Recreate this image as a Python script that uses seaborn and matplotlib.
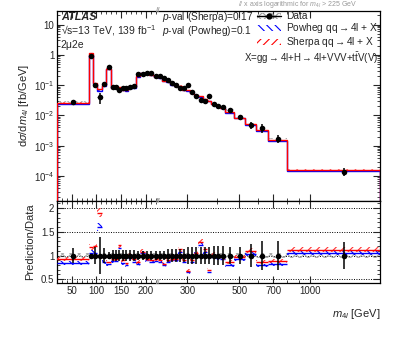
import numpy as np
import matplotlib
matplotlib.use("Agg")
import matplotlib.pyplot as plt
import seaborn as sns
from matplotlib.patches import Patch
from matplotlib.lines import Line2D
from matplotlib.ticker import FixedLocator, FuncFormatter, NullFormatter
import matplotlib.transforms as mtransforms

# ---------------- data ----------------
bin_edges = [20, 85, 94, 102, 112, 120, 130, 136, 143, 150, 157, 164, 172, 180,
             189, 198, 207, 216, 225, 235, 244, 253, 263, 275, 285, 295, 308,
             321, 335, 349, 363, 380, 398, 414, 436, 476, 530, 588, 662, 800, 2000]

data_xsec = [0.028, 0.95, 0.101, 0.040, 0.107, 0.41, 0.089, 0.089, 0.069, 0.079,
             0.082, 0.085, 0.094, 0.235, 0.235, 0.259, 0.247, 0.206, 0.202, 0.169,
             0.149, 0.116, 0.101, 0.083, 0.079, 0.101, 0.061, 0.045, 0.033, 0.030,
             0.044, 0.024, 0.0205, 0.0183, 0.015, 0.0087, 0.0048, 0.0039, 0.0017, 0.00014]

data_rel_err = [0.15, 0.03, 0.18, 0.40, 0.15, 0.08, 0.12, 0.12, 0.12, 0.12,
                0.12, 0.12, 0.12, 0.10, 0.10, 0.10, 0.10, 0.10, 0.10, 0.10,
                0.13, 0.13, 0.13, 0.13, 0.13, 0.17, 0.17, 0.17, 0.17, 0.17,
                0.17, 0.20, 0.20, 0.20, 0.17, 0.17, 0.25, 0.30, 0.30, 0.28]

ratio_sherpa = [0.93, 1.18, 1.20, 1.90, 0.96, 0.86, 0.93, 0.93, 1.23, 0.90,
                0.85, 1.00, 0.92, 0.86, 1.08, 0.93, 0.90, 0.92, 0.90, 0.82,
                0.90, 0.93, 0.93, 1.13, 0.90, 0.68, 0.90, 1.06, 1.28, 1.13,
                0.70, 1.02, 0.99, 0.96, 0.86, 0.97, 1.10, 0.86, 0.88, 1.12]

ratio_powheg = [0.84, 1.06, 1.05, 1.60, 0.87, 0.82, 0.88, 0.88, 1.16, 0.85,
                0.80, 0.95, 0.87, 0.82, 1.05, 0.90, 0.87, 0.88, 0.87, 0.80,
                0.87, 0.90, 0.90, 1.08, 0.87, 0.65, 0.87, 1.02, 1.22, 1.08,
                0.66, 0.97, 0.95, 0.93, 0.79, 0.92, 1.04, 0.79, 0.82, 1.06]

pred_rel_unc = 0.05
data_syst_rel = 0.05

major_xticks = [50, 100, 150, 200, 300, 500, 700, 1000]
minor_xticks = [20, 30, 40, 60, 70, 80, 90, 110, 120, 130, 140, 160, 170, 180,
                190, 210, 220, 400, 600, 800, 900, 2000]

# ---------------- style ----------------
sns.set_theme(style="ticks")
plt.rcParams.update({
    "font.size": 7.5,
    "mathtext.fontset": "custom",
    "mathtext.rm": "Liberation Sans",
    "mathtext.it": "Liberation Sans:italic",
    "mathtext.bf": "Liberation Sans:bold",
    "hatch.linewidth": 0.8,
    "axes.linewidth": 0.9,
    "xtick.direction": "in",
    "ytick.direction": "in",
    "xtick.top": True,
    "ytick.right": True,
})
plt.rcParams["font.family"] = ["Liberation Sans", "DejaVu Sans"]

RED = "#ff0000"
BLUE = "#0000ff"

edges = np.array(bin_edges, float)
lo, hi = edges[:-1], edges[1:]
centers = 0.5 * (lo + hi)
data = np.array(data_xsec)
derr = data * np.array(data_rel_err)
rs = np.array(ratio_sherpa)
rp = np.array(ratio_powheg)
sherpa = data * rs
powheg = data * rp

# piecewise linear/log axis (log above 225 GeV)
K = 474.5


def fwd(x):
    x = np.asarray(x, float)
    with np.errstate(divide="ignore", invalid="ignore"):
        return np.where(x <= 225, x, 225 + K * np.log10(np.clip(x, 1e-9, None) / 225))


def inv(y):
    y = np.asarray(y, float)
    with np.errstate(over="ignore"):
        return np.where(y <= 225, y, 225 * 10 ** ((y - 225) / K))


W, H = 399, 337
fig = plt.figure(figsize=(W / 100, H / 100), dpi=100)
ax = fig.add_axes([57 / W, 1 - 201 / H, 323 / W, 190 / H])
ax2 = fig.add_axes([57 / W, 1 - 283 / H, 323 / W, 82 / H])
for a in (ax, ax2):
    a.set_xscale("function", functions=(fwd, inv))
    a.set_xlim(20, 2000)

# ---------------- main panel ----------------
ax.set_yscale("log")
ax.set_ylim(1.5e-5, 28)

ax.stairs(data * (1 + data_syst_rel), edges, baseline=data * (1 - data_syst_rel),
          fill=True, facecolor="none", edgecolor="#aaaaaa", hatch="xxxx", linewidth=0, zorder=1)
ax.stairs(powheg * (1 + pred_rel_unc), edges, baseline=powheg * (1 - pred_rel_unc),
          fill=True, facecolor="none", edgecolor=BLUE, hatch="\\\\\\\\", linewidth=0, zorder=2)
ax.stairs(powheg, edges, color=BLUE, linewidth=1.0, zorder=3)
ax.stairs(sherpa * (1 + pred_rel_unc), edges, baseline=sherpa * (1 - pred_rel_unc),
          fill=True, facecolor="none", edgecolor="#ff6666", hatch="////", linewidth=0, zorder=2)
ax.stairs(sherpa, edges, color=RED, linewidth=1.0, zorder=4)
ax.errorbar(centers, data, yerr=derr, fmt="none", ecolor="black", elinewidth=1.1, zorder=5)
sns.scatterplot(x=centers, y=data, ax=ax, color="black", s=16, edgecolor="black",
                linewidth=0, zorder=6, legend=False)


def yfmt(v, pos):
    e = int(round(np.log10(v)))
    if e == 0:
        return "1"
    if e == 1:
        return "10"
    return r"$10^{%d}$" % e


ax.yaxis.set_major_locator(FixedLocator([1e-4, 1e-3, 1e-2, 1e-1, 1, 10]))
ax.yaxis.set_major_formatter(FuncFormatter(yfmt))
ax.yaxis.set_minor_locator(FixedLocator(
    [m * 10.0 ** e for e in range(-5, 2) for m in range(2, 10)]))
ax.yaxis.set_minor_formatter(NullFormatter())
ax.set_ylabel(r"d$\sigma$/d$m_{4l}$ [fb/GeV]", fontsize=8, labelpad=2)

for a in (ax, ax2):
    a.xaxis.set_major_locator(FixedLocator(major_xticks))
    a.xaxis.set_minor_locator(FixedLocator(minor_xticks))
    a.xaxis.set_minor_formatter(NullFormatter())
    a.tick_params(which="major", length=5, width=0.8, labelsize=7, pad=2)
    a.tick_params(which="minor", length=2.5, width=0.6)
    for s in a.spines.values():
        s.set_color("black")
ax.xaxis.set_major_formatter(NullFormatter())
ax2.xaxis.set_major_formatter(FuncFormatter(lambda v, p: "%d" % v))

# texts
ax.text(0.012, 0.968, "ATLAS", transform=ax.transAxes, fontsize=7.8,
        fontweight="bold", fontstyle="italic", va="center", ha="left")
ax.text(0.012, 0.895, "\u221As=13 TeV, 139 fb$^{-1}$", transform=ax.transAxes,
        fontsize=7.5, va="center", ha="left")
ax.text(0.012, 0.82, "2\u03bc2e", transform=ax.transAxes, fontsize=7.5,
        va="center", ha="left")
ax.text(0.325, 0.968, "$p$-val (Sherpa)=0.17", transform=ax.transAxes,
        fontsize=7.3, va="center", ha="left")
ax.text(0.325, 0.895, "$p$-val (Powheg)=0.1", transform=ax.transAxes,
        fontsize=7.3, va="center", ha="left")
ax.text(0.995, 0.755, r"X=gg$\rightarrow$4l+H$\rightarrow$4l+VVV+t$\bar{\rm t}$V(V)",
        transform=ax.transAxes, fontsize=7.0, va="center", ha="right")

h_data = (Patch(facecolor="none", edgecolor="#999999", hatch="xxxx", linewidth=0),
          Line2D([], [], color="black", marker="o", markersize=3.5, linewidth=1.0))
h_pow = Patch(facecolor="none", edgecolor=BLUE, hatch="\\\\\\\\", linewidth=0)
h_she = Patch(facecolor="none", edgecolor=RED, hatch="////", linewidth=0)
ax.legend([h_data, h_pow, h_she],
          ["Data", r"Powheg qq$\rightarrow$4l + X", r"Sherpa qq$\rightarrow$4l + X"],
          loc="upper left", bbox_to_anchor=(0.605, 1.025), frameon=False, fontsize=7.3,
          handlelength=2.3, handleheight=0.6, handletextpad=0.5, labelspacing=0.0,
          borderaxespad=0.3, borderpad=0.2)

# ---------------- ratio panel ----------------
ax2.set_ylim(0.42, 2.15)
for yv in (0.5, 1.0, 1.5, 2.0):
    ax2.axhline(yv, color="black", linestyle=(0, (1, 1.5)), linewidth=0.7, zorder=0)
ax2.stairs(np.full(len(data), 1 + data_syst_rel), edges,
           baseline=np.full(len(data), 1 - data_syst_rel), fill=True,
           facecolor="none", edgecolor="#aaaaaa", hatch="xxxx", linewidth=0, zorder=1)
ax2.bar(lo, 2 * pred_rel_unc * rp, bottom=rp * (1 - pred_rel_unc), width=hi - lo,
        align="edge", facecolor="none", edgecolor=BLUE, hatch="\\\\\\\\", linewidth=0, zorder=2)
ax2.hlines(rp, lo, hi, color=BLUE, linewidth=1.0, zorder=3)
ax2.bar(lo, 2 * pred_rel_unc * rs, bottom=rs * (1 - pred_rel_unc), width=hi - lo,
        align="edge", facecolor="none", edgecolor="#ff3333", hatch="////", linewidth=0, zorder=3)
ax2.hlines(rs, lo, hi, color=RED, linewidth=1.0, zorder=4)
ones = np.ones(len(data))
ax2.errorbar(centers, ones, yerr=np.array(data_rel_err), fmt="none", ecolor="black",
             elinewidth=1.1, zorder=5)
sns.scatterplot(x=centers, y=ones, ax=ax2, color="black", s=16, edgecolor="black",
                linewidth=0, zorder=6, legend=False)

ax2.yaxis.set_major_locator(FixedLocator([0.5, 1, 1.5, 2]))
ax2.yaxis.set_major_formatter(FuncFormatter(lambda v, p: "%g" % v))
ax2.yaxis.set_minor_locator(FixedLocator(np.arange(0.5, 2.15, 0.1)))
ax2.yaxis.set_minor_formatter(NullFormatter())
ax2.set_ylabel("Prediction/Data", fontsize=8, labelpad=4)
ax2.set_xlabel("$m_{4l}$ [GeV]", fontsize=8, loc="right", labelpad=8)

# axis-break marks at 225 GeV and note
for a in (ax, ax2):
    for yb in (0.0, 1.0):
        tr = mtransforms.blended_transform_factory(a.transData, a.transAxes)
        a.text(225, yb, "//", transform=tr, color="#aaaaaa", fontsize=6,
               ha="center", va="center", fontweight="bold", clip_on=False, zorder=10)
fig.text(238 / W, 1 - 5 / H,
         "// x axis logarithmic for $m_{4l}$ > 225 GeV", color="#999999",
         fontsize=5, ha="left", va="center")

fig.savefig("out.png", dpi=100)
